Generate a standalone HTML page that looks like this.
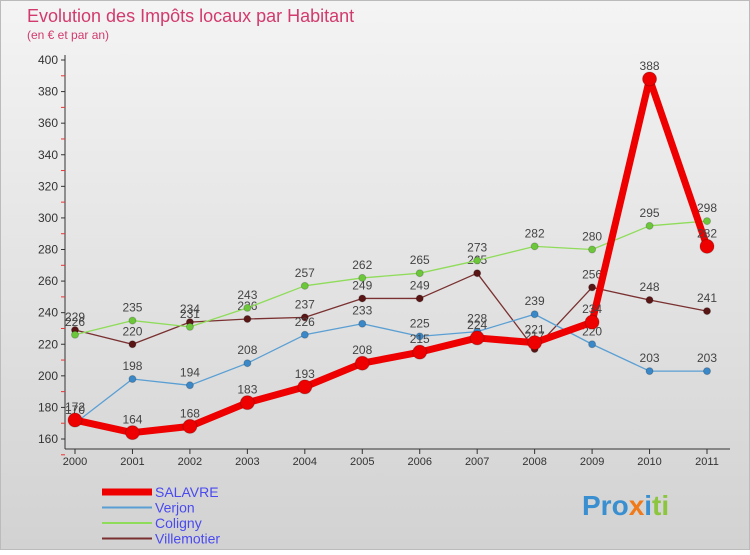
<!DOCTYPE html>
<html><head><meta charset="utf-8"><style>
body{margin:0;width:750px;height:550px;overflow:hidden;font-family:"Liberation Sans",sans-serif}
</style></head><body>
<svg width="750" height="550" xmlns="http://www.w3.org/2000/svg">
<defs><linearGradient id="bg" x1="0" y1="0" x2="0" y2="1"><stop offset="0" stop-color="#f4f4f4"/><stop offset="1" stop-color="#d2d2d2"/></linearGradient></defs>
<rect x="0.5" y="0.5" width="749" height="549" fill="url(#bg)" stroke="#bbb"/>
<text x="27" y="22" font-size="18" fill="#d23a6e">Evolution des Impôts locaux par Habitant</text>
<text x="27" y="39" font-size="12" fill="#d23a6e">(en € et par an)</text>
<g id="axes"></g>
<g id="series"></g>
<g id="legend"></g>
<text x="582" y="515" font-size="28" font-weight="bold" fill="#3a8fd0">Pro<tspan fill="#f07a1a">x</tspan><tspan fill="#3a8fd0">i</tspan><tspan fill="#8cc63f">ti</tspan></text>
</svg>
<script>
const years=[2000,2001,2002,2003,2004,2005,2006,2007,2008,2009,2010,2011];
const salavre=[172,164,168,183,193,208,215,224,221,234,388,282];
const verjon=[170,198,194,208,226,233,225,228,239,220,203,203];
const coligny=[226,235,231,243,257,262,265,273,282,280,295,298];
const villemotier=[229,220,234,236,237,249,249,265,217,256,248,241];
const yTicks=[160,180,200,220,240,260,280,300,320,340,360,380,400];
const NS="http://www.w3.org/2000/svg";
const X=i=>75+i*(707-75)/(years.length-1);
const Y=v=>439-(v-160)*(439-60)/240;
function mk(t,a,p){const e=document.createElementNS(NS,t);for(const k in a)e.setAttribute(k,a[k]);p.appendChild(e);return e;}
const ax=document.getElementById('axes');
let l=mk('line',{x1:65,y1:55,x2:65,y2:449,stroke:'#333'},ax);


l=mk('line',{x1:65,y1:449,x2:730,y2:449,stroke:'#333'},ax);


yTicks.forEach(v=>{const y=Y(v);
 mk('line',{x1:61,y1:y,x2:65,y2:y,stroke:'#333'},ax);
 mk('line',{x1:61,y1:y+15.8,x2:65,y2:y+15.8,stroke:'#e33'},ax);
 const t=mk('text',{x:58,y:y+4,'font-size':12,fill:'#333','text-anchor':'end'},ax);t.textContent=v;
 
 });
years.forEach((yr,i)=>{const x=X(i);
 mk('line',{x1:x,y1:449,x2:x,y2:454,stroke:'#333'},ax);
 const t=mk('text',{x:x,y:465,'font-size':11,fill:'#333','text-anchor':'middle'},ax);t.textContent=yr;
 
 });
const sg=document.getElementById('series');
const defs=[['villemotier',villemotier,'#7a3030','#5a1515',1.3,3.5],['coligny',coligny,'#8fdc5a','#6cc83a',1.3,3.5],['verjon',verjon,'#5a9fd4','#3a88c8',1.3,3.5],['salavre',salavre,'#ee0000','#ee0000',7,7]];
defs.forEach(([n,d,c,mc,w,r])=>{
 const g=mk('g',{},sg);
 
 
 mk('polyline',{points:d.map((v,i)=>X(i)+','+Y(v)).join(' '),fill:'none',stroke:c,'stroke-width':w,'stroke-linejoin':'round'},g);
 d.forEach((v,i)=>{const p=mk('circle',{cx:X(i),cy:Y(v),r:r,fill:mc,stroke:'#0003'},g);
  
  
  const t=mk('text',{x:X(i),y:Y(v)-9,'font-size':12,fill:'#444','text-anchor':'middle'},g);t.textContent=v;
  
  });
});
const lg=document.getElementById('legend');
[['SALAVRE','#ee0000',7],['Verjon','#5a9fd4',2],['Coligny','#8fdc5a',2],['Villemotier','#7a3030',2]].forEach(([n,c,w],i)=>{
 const y=492+i*15.5;
 const e=mk('line',{x1:102,y1:y,x2:152,y2:y,stroke:c,'stroke-width':w},lg);
 
 
 const t=mk('text',{x:155,y:y+5,'font-size':14,fill:'#4a4af0'},lg);t.textContent=n;
 
 });
</script>
</body></html>
